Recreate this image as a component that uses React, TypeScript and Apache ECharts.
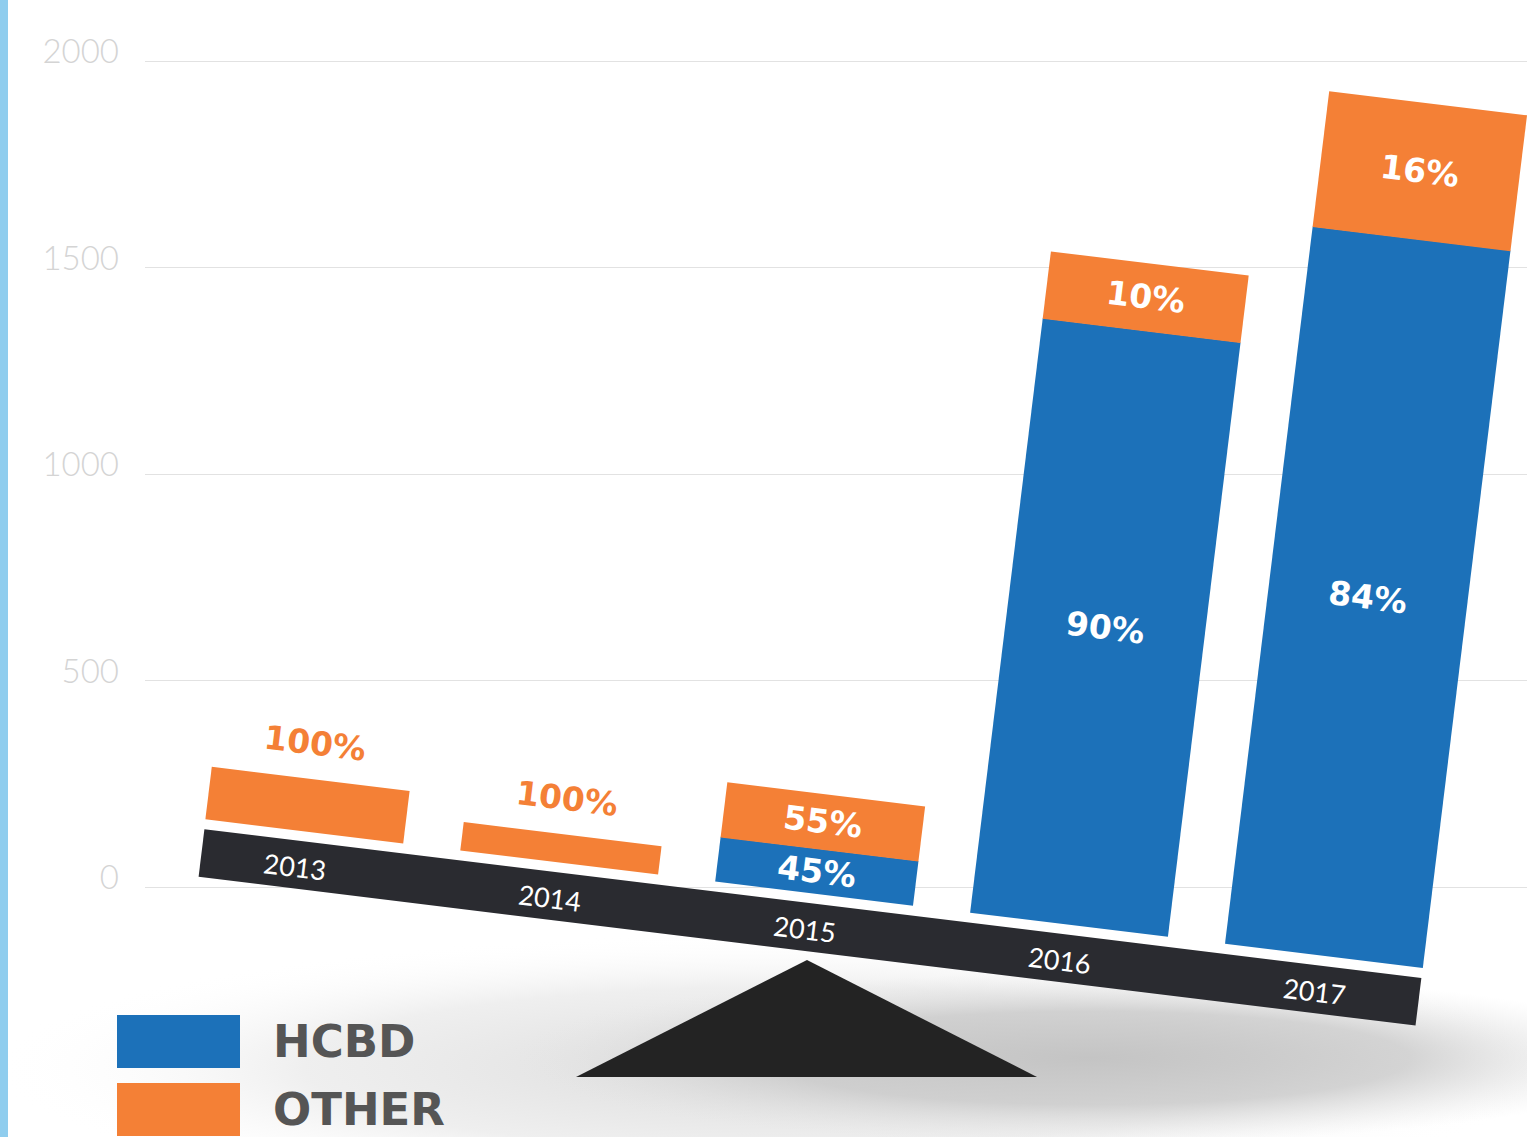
import React, { useEffect, useRef } from "react";
import * as echarts from "echarts";

// ---- data ----
const years = ["2013", "2014", "2015", "2016", "2017"];
const hcbd = [0, 0, 109, 1450, 1750];
const other = [128, 69, 133, 163, 330];
const yMin = 0;
const yMax = 2000;
const yStep = 500;
const seriesNames = ["HCBD", "OTHER"];

// ---- style / layout constants ----
const BLUE = "#1c71b9";
const ORANGE = "#f48036";
const BEAM = "#2a2b30";
const PX = 807;
const PY = 927;
const TH = Math.atan(0.1222);
const C = Math.cos(TH);
const S = Math.sin(TH);
const rot = (x: number, y: number) => {
  const u = x - PX;
  const v = y - PY;
  return [PX + u * C - v * S, PY + u * S + v * C];
};

const pct = (a: number, b: number) => Math.round((a / (a + b)) * 100);

const makeRender = (color: string) => (params: any, api: any) => {
  const i = api.value(0);
  const val = api.value(1);
  const base = api.value(2);
  const p = api.value(3);
  if (!val) return { type: "group", children: [] };
  const p0 = api.coord([i, base]);
  const p1 = api.coord([i, base + val]);
  const w = api.size([1, 0])[0] * 0.776;
  const x0 = p0[0] - w / 2;
  const x1 = p0[0] + w / 2;
  const yb = p0[1] + (base > 0 ? 0.6 : 0);
  const yt = p1[1];
  const pts = [rot(x0, yb), rot(x1, yb), rot(x1, yt), rot(x0, yt)];
  const inside = p < 100;
  const ly = inside ? (p0[1] + yt) / 2 : yt - 36;
  const lp = rot(p0[0], ly);
  return {
    type: "group",
    children: [
      { type: "polygon", shape: { points: pts }, style: { fill: color } },
      {
        type: "text",
        x: lp[0],
        y: lp[1],
        rotation: -TH,
        style: {
          text: p + "%",
          fill: inside ? "#ffffff" : color,
          font: "bold 33px 'DejaVu Sans'",
          align: "center",
          verticalAlign: "middle",
        },
      },
    ],
  };
};

const renderYears = (params: any, api: any) => {
  const i = api.value(0);
  const c = api.coord([i, 0]);
  const lp = rot(c[0] - 5, c[1] + 36);
  return {
    type: "text",
    x: lp[0],
    y: lp[1],
    rotation: -TH,
    style: {
      text: years[i],
      fill: "#ffffff",
      font: "400 27px Lato",
      align: "center",
      verticalAlign: "middle",
    },
  };
};

const beamPts = [
  rot(PX - 610, PY - 24),
  rot(PX + 616, PY - 24),
  rot(PX + 616, PY + 24),
  rot(PX - 610, PY + 24),
];

const option: any = {
  animation: false,
  backgroundColor: "#ffffff",
  grid: [
    { left: 145, right: 0, top: 61, bottom: 250 },
    { left: 168, right: 75, top: 67, bottom: 244 },
  ],
  xAxis: [
    { type: "value", gridIndex: 0, show: false },
    { type: "category", gridIndex: 1, data: years, show: false },
  ],
  yAxis: [
    {
      type: "value",
      gridIndex: 0,
      min: yMin,
      max: yMax,
      interval: yStep,
      z: 0,
      axisLine: { show: false },
      axisTick: { show: false },
      splitLine: { lineStyle: { color: "#e2e2e2", width: 1 } },
      axisLabel: {
        margin: 26,
        formatter: (v: number) => String(v),
        color: "#d4d4d4",
        fontFamily: "Lato",
        fontWeight: 300,
        fontSize: 33,
        verticalAlign: "bottom",
        lineHeight: 22,
      },
    },
    { type: "value", gridIndex: 1, min: yMin, max: yMax, show: false },
  ],
  legend: {
    left: 117,
    top: 1015,
    orient: "vertical",
    padding: 0,
    itemWidth: 123,
    itemHeight: 53,
    itemGap: 15,
    selectedMode: false,
    textStyle: {
      fontSize: 45,
      fontWeight: "bold",
      fontFamily: "DejaVu Sans",
      color: "#555555",
      padding: [0, 0, 0, 28],
    },
    data: [
      { name: seriesNames[0], icon: "rect", itemStyle: { color: BLUE } },
      { name: seriesNames[1], icon: "rect", itemStyle: { color: ORANGE } },
    ],
  },
  graphic: [
    { type: "rect", z: 5, shape: { x: 0, y: 0, width: 8, height: 1137 }, style: { fill: "#8fcdee" } },
    {
      type: "circle",
      z: -2,
      x: 780,
      y: 1068,
      scaleX: 7.9,
      scaleY: 1.35,
      shape: { cx: 0, cy: 0, r: 100 },
      style: {
        fill: {
          type: "radial",
          x: 0.5,
          y: 0.5,
          r: 0.5,
          colorStops: [
            { offset: 0, color: "rgba(215,215,215,0.9)" },
            { offset: 0.6, color: "rgba(228,228,228,0.6)" },
            { offset: 1, color: "rgba(255,255,255,0)" },
          ],
        },
      },
    },
    {
      type: "circle",
      z: -1,
      x: 1090,
      y: 1058,
      scaleX: 5.8,
      scaleY: 0.85,
      shape: { cx: 0, cy: 0, r: 100 },
      style: {
        fill: {
          type: "radial",
          x: 0.5,
          y: 0.5,
          r: 0.5,
          colorStops: [
            { offset: 0, color: "rgba(196,196,196,1)" },
            { offset: 0.55, color: "rgba(202,202,202,0.8)" },
            { offset: 1, color: "rgba(230,230,230,0)" },
          ],
        },
      },
    },
    {
      type: "polygon",
      z: 1,
      shape: { points: [[807, 960], [1037, 1077], [576, 1077]] },
      style: { fill: "#232323" },
    },
    { type: "polygon", z: 1, shape: { points: beamPts }, style: { fill: BEAM } },
  ],
  series: [
    {
      name: seriesNames[0],
      type: "custom",
      xAxisIndex: 1,
      yAxisIndex: 1,
      clip: false,
      itemStyle: { color: BLUE },
      encode: { x: 0, y: [1, 2] },
      renderItem: makeRender(BLUE),
      data: years.map((_, i) => [i, hcbd[i], 0, pct(hcbd[i], other[i])]),
    },
    {
      name: seriesNames[1],
      type: "custom",
      xAxisIndex: 1,
      yAxisIndex: 1,
      clip: false,
      itemStyle: { color: ORANGE },
      encode: { x: 0, y: [1, 2] },
      renderItem: makeRender(ORANGE),
      data: years.map((_, i) => [i, other[i], hcbd[i], pct(other[i], hcbd[i])]),
    },
    {
      name: "years",
      type: "custom",
      xAxisIndex: 1,
      yAxisIndex: 1,
      clip: false,
      z: 3,
      encode: { x: 0 },
      renderItem: renderYears,
      data: years.map((_, i) => [i]),
    },
  ],
};

export default function App() {
  const ref = useRef<HTMLDivElement>(null);
  useEffect(() => {
    const chart = echarts.init(ref.current as HTMLDivElement, undefined, { renderer: "svg" });
    chart.setOption(option);
    return () => chart.dispose();
  }, []);
  return (
    <div
      ref={ref}
      style={{ position: "fixed", left: 0, top: 0, width: 1527, height: 1137, background: "#fff" }}
    />
  );
}
